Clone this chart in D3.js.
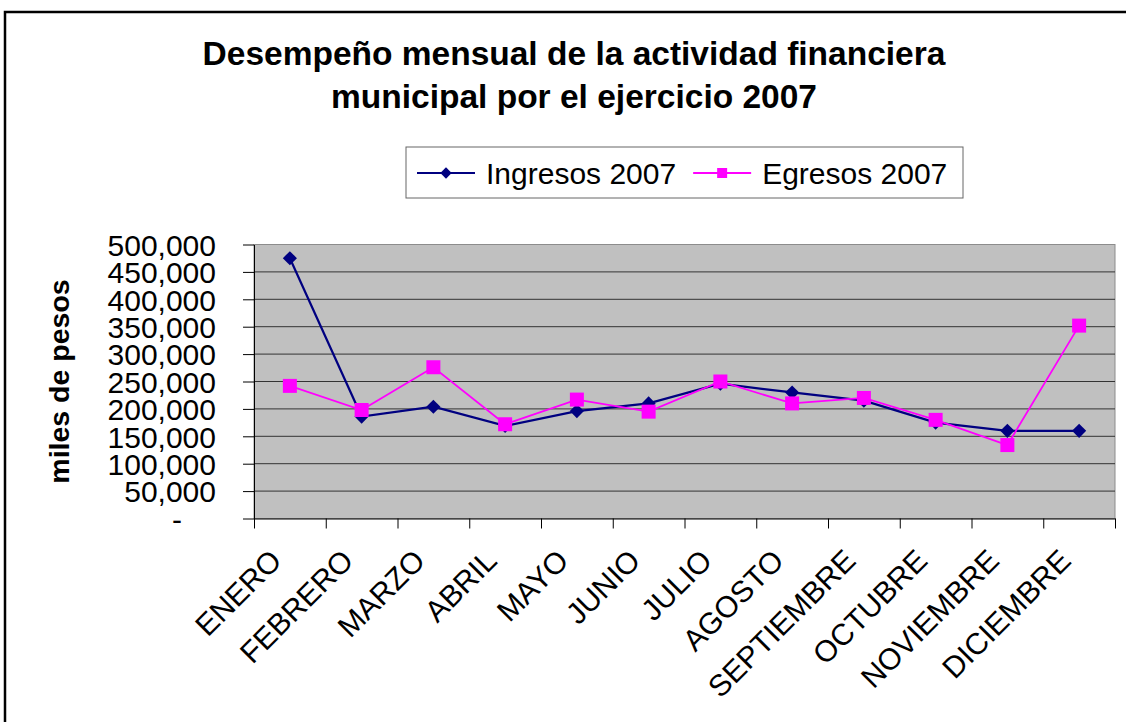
<!DOCTYPE html>
<html>
<head>
<meta charset="utf-8">
<script src="https://cdn.jsdelivr.net/npm/d3@7"></script>
<style>
  body { margin: 0; background: #fff; }
  text { font-family: "Liberation Sans", Arial, sans-serif; fill: #000; }
</style>
</head>
<body>
<script>
// datos del gráfico
var months = ["ENERO", "FEBRERO", "MARZO", "ABRIL", "MAYO", "JUNIO", "JULIO",
  "AGOSTO", "SEPTIEMBRE", "OCTUBRE", "NOVIEMBRE", "DICIEMBRE"];
var ingresos = [475000, 186000, 204000, 169000, 196000, 210000, 246000,
  230000, 215000, 175000, 160000, 160000];
var egresos = [242000, 198000, 276000, 172000, 217000, 195000, 250000,
  210000, 220000, 180000, 134000, 352000];
var yTicks = [0, 50000, 100000, 150000, 200000, 250000, 300000, 350000, 400000, 450000, 500000];
var seriesNames = ["Ingresos 2007", "Egresos 2007"];
var titleLines = ["Desempeño mensual de la actividad financiera", "municipal por el ejercicio 2007"];

function drawChart() {
  var W = 1126, H = 722;
  var left = 254, right = 1115, top = 244.5, bottom = 518.5;

  var svg = d3.select("body").append("svg")
    .attr("width", W)
    .attr("height", H);

  // borde exterior
  svg.append("rect")
    .attr("x", 5).attr("y", 12)
    .attr("width", W + 20).attr("height", H + 20)
    .attr("fill", "#fff")
    .attr("stroke", "#000")
    .attr("stroke-width", 2.5);

  // titulo
  svg.selectAll(".title").data(titleLines).enter().append("text")
    .attr("class", "title")
    .attr("x", 574)
    .attr("y", function(d, i) { return 65 + i * 43; })
    .attr("text-anchor", "middle")
    .style("font-size", "33.5px")
    .style("font-weight", "bold")
    .text(function(d) { return d; });

  var y = d3.scaleLinear().domain([0, 500000]).range([bottom, top]);
  var x = d3.scaleBand().domain(months).range([left, right]);
  var xb = d3.scaleLinear().domain([0, months.length]).range([left, right]);
  var cx = function(i) { return x(months[i]) + x.bandwidth() / 2; };

  // area de trazado
  svg.append("rect")
    .attr("x", left).attr("y", top)
    .attr("width", right - left).attr("height", bottom - top)
    .attr("fill", "#c0c0c0")
    .attr("stroke", "#8c8c8c")
    .attr("stroke-width", 1);

  // lineas de cuadricula
  svg.selectAll(".grid").data(yTicks.filter(function(v) { return v > 0 && v < 500000; })).enter()
    .append("line")
    .attr("class", "grid")
    .attr("x1", left).attr("x2", right)
    .attr("y1", function(d) { return y(d); })
    .attr("y2", function(d) { return y(d); })
    .attr("stroke", "#333")
    .attr("stroke-width", 1);

  // eje Y
  var yAxis = svg.append("g")
    .attr("transform", "translate(" + left + ",0)")
    .call(d3.axisLeft(y).tickValues(yTicks).tickSize(11).tickSizeOuter(0).tickPadding(27)
      .tickFormat(function(v) { return v === 0 ? "-" : d3.format(",")(v); }));
  yAxis.select(".domain").attr("stroke", "#000");
  yAxis.selectAll("text")
    .style("font-size", "30px")
    .attr("font-family", null)
    .attr("dy", "0.36em");
  yAxis.selectAll(".tick").filter(function(d) { return d === 0; })
    .select("text").attr("x", -72);

  // eje X
  var xAxis = svg.append("g")
    .attr("transform", "translate(0," + bottom + ")")
    .call(d3.axisBottom(xb).tickValues(d3.range(months.length + 1)).tickSize(10)
      .tickSizeOuter(0).tickFormat(""));
  xAxis.select(".domain").attr("stroke", "#000");

  svg.selectAll(".xlab").data(months).enter().append("text")
    .attr("class", "xlab")
    .attr("transform", function(d, i) { return "translate(" + (cx(i) - 14) + ",555) rotate(-45)"; })
    .attr("text-anchor", "end")
    .attr("dy", "0.35em")
    .style("font-size", "30px")
    .text(function(d) { return d; });

  // titulo eje Y
  svg.append("text")
    .attr("transform", "translate(69,381.5) rotate(-90)")
    .attr("text-anchor", "middle")
    .style("font-size", "28.5px")
    .style("font-weight", "bold")
    .text("miles de pesos");

  var line = d3.line()
    .x(function(d, i) { return cx(i); })
    .y(function(d) { return y(d); });

  var diamond = d3.symbol().type(d3.symbolSquare).size(100);
  var square = d3.symbol().type(d3.symbolSquare).size(196);

  // serie ingresos
  svg.append("path")
    .datum(ingresos)
    .attr("d", line)
    .attr("fill", "none")
    .attr("stroke", "#000080")
    .attr("stroke-width", 2.2);
  svg.selectAll(".ing").data(ingresos).enter().append("path")
    .attr("class", "ing")
    .attr("d", diamond)
    .attr("transform", function(d, i) { return "translate(" + cx(i) + "," + y(d) + ") rotate(45)"; })
    .attr("fill", "#000080");

  // serie egresos
  svg.append("path")
    .datum(egresos)
    .attr("d", line)
    .attr("fill", "none")
    .attr("stroke", "#ff00ff")
    .attr("stroke-width", 1.8);
  svg.selectAll(".egr").data(egresos).enter().append("path")
    .attr("class", "egr")
    .attr("d", square)
    .attr("transform", function(d, i) { return "translate(" + cx(i) + "," + y(d) + ")"; })
    .attr("fill", "#ff00ff");

  // leyenda
  var legend = svg.append("g");
  legend.append("rect")
    .attr("x", 406).attr("y", 147)
    .attr("width", 557).attr("height", 51)
    .attr("fill", "#fff")
    .attr("stroke", "#666")
    .attr("stroke-width", 1);

  var colors = ["#000080", "#ff00ff"];
  var legSymbols = [
    d3.symbol().type(d3.symbolSquare).size(64),
    d3.symbol().type(d3.symbolSquare).size(100)
  ];
  var lx = 417, ly = 173;
  seriesNames.forEach(function(name, i) {
    legend.append("line")
      .attr("x1", lx).attr("x2", lx + 58)
      .attr("y1", ly).attr("y2", ly)
      .attr("stroke", colors[i])
      .attr("stroke-width", 2);
    legend.append("path")
      .attr("d", legSymbols[i])
      .attr("transform", "translate(" + (lx + 29) + "," + ly + ")" + (i === 0 ? " rotate(45)" : ""))
      .attr("fill", colors[i]);
    var t = legend.append("text")
      .attr("x", lx + 69)
      .attr("y", ly)
      .attr("dy", "0.36em")
      .style("font-size", "30px")
      .text(name);
    lx = lx + 69 + t.node().getComputedTextLength() + 17;
  });
}

drawChart();
</script>
</body>
</html>
